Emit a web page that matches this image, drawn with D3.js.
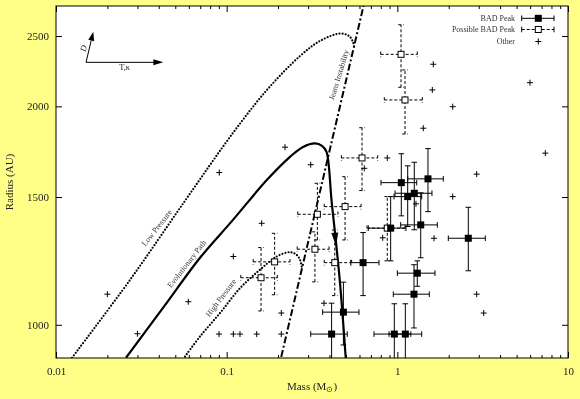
<!DOCTYPE html>
<html><head><meta charset="utf-8">
<script src="https://cdn.jsdelivr.net/npm/d3@7"></script>
<style>
html,body{margin:0;padding:0;background:#ffff88;}
svg{display:block;will-change:transform;}
text{font-family:"Liberation Serif","Times New Roman",serif;}
</style></head><body>
<svg id="chart" width="580" height="399"></svg>
<script>
// ---------- data ----------
const xTickLabels = [0.01, 0.1, 1, 10];
const xMinorTicks = [0.02,0.03,0.04,0.05,0.06,0.07,0.08,0.09,0.2,0.3,0.4,0.5,0.6,0.7,0.8,0.9,2,3,4,5,6,7,8,9];
const yTickLabels = [1000, 1500, 2000, 2500];
const massDomain = [0.01, 10];
const radiusDomain = [900, 2750];

// mass, radius, massLo, massHi, radiusLo, radiusHi
const badPeak = [
  [0.412, 971, 0.311, 0.509, 850, 1071],
  [0.483, 1041, 0.365, 0.596, 938, 1145],
  [0.630, 1218, 0.533, 0.781, 1097, 1340],
  [0.914, 1359, 0.676, 1.124, 1225, 1502],
  [0.960, 971, 0.730, 1.200, 850, 1069],
  [1.114, 971, 0.894, 1.389, 850, 1069],
  [1.055, 1570, 0.802, 1.299, 1413, 1721],
  [1.150, 1502, 0.956, 1.389, 1366, 1656],
  [1.257, 1518, 0.969, 1.596, 1352, 1675],
  [1.371, 1373, 1.046, 1.715, 1237, 1520],
  [1.512, 1589, 1.150, 1.859, 1432, 1749],
  [1.309, 1178, 1.000, 1.662, 1130, 1225],
  [1.252, 1102, 0.947, 1.539, 990, 1210],
  [2.605, 1316, 1.989, 3.277, 1187, 1452]
];
const possibleBadPeak = [
  [1.051, 2359, 0.799, 1.309, 2125, 2591],
  [1.109, 2041, 0.839, 1.401, 1832, 2245],
  [0.621, 1698, 0.470, 0.767, 1531, 1869],
  [0.494, 1455, 0.373, 0.613, 1309, 1600],
  [0.340, 1420, 0.261, 0.449, 1309, 1567],
  [0.329, 1271, 0.259, 0.398, 1146, 1343],
  [0.430, 1218, 0.373, 0.540, 1097, 1351],
  [0.191, 1221, 0.143, 0.235, 1100, 1337],
  [0.159, 1161, 0.121, 0.198, 1045, 1278],
  [0.873, 1359, 0.664, 1.109, 1225, 1502]
];
const otherMass   = [0.0200,0.0300,0.0596,0.0905,0.2197,0.3108,0.8733,0.6404,0.8208,2.917,2.111,1.286,1.640,0.1604,0.1094,0.2090,0.0902,0.1094,0.1197,0.1500,0.2090,0.3718,2.917,3.207,1.624,1.603,2.111,1.419,5.988,7.362];
const otherRadius = [1102,972,1076,1621,1757,1662,1698,1643,1318,1613,1502,1468,1316,1380,1242,1038,971,971,971,971,971,1071,1102,1038,2286,2107,1998,1866,2156,1724];

const lowPressure = [[0.01241,900.7],[0.02715,1153],[0.0570,1482],[0.1089,1838],[0.1723,2107],[0.2690,2346],[0.3522,2461],[0.4614,2520],[0.5208,2500],[0.5498,2453],[0.5610,2399]];
const evolutionaryPath = [[0.02572,900.7],[0.04236,1055],[0.06981,1237],[0.1089,1395],[0.1723,1584],[0.2350,1704],[0.2802,1758],[0.3293,1778],[0.3619,1764],[0.3846,1731],[0.3951,1671],[0.4114,1486],[0.4313,1339],[0.4614,1142],[0.4984,900.7]];
const highPressure = [[0.0570,904],[0.06981,963.6],[0.09139,1037.8],[0.1197,1123],[0.1568,1191],[0.1965,1242],[0.2350,1259],[0.2573,1248],[0.2690,1229],[0.2752,1203]];
const jeansLine = [[0.20,865],[0.66,2865]];
const arrowPoint = [0.434, 1310];
// label anchors [mass, radius, angle]
const curveLabels = [
  ["Low Pressure", 0.03906, 1360, -52],
  ["Evolutionary Path", 0.05856, 1213, -52],
  ["High Pressure", 0.0926, 1089, -53],
  ["Jeans Instability", 0.4551, 2209, -73]
];

// ---------- chart ----------
const svg = d3.select("#chart");
const L = 56, R = 568, T = 6, B = 358;
const x = d3.scaleLog().domain(massDomain).range([L, R]);
const y = d3.scaleLog().domain(radiusDomain).range([B, T]);

svg.append("rect").attr("x",0).attr("y",0).attr("width",580).attr("height",399).attr("fill","#ffff88");
svg.append("rect").attr("x",L).attr("y",T).attr("width",R-L).attr("height",B-T).attr("fill","#ffffff");

svg.append("defs").append("clipPath").attr("id","clip")
  .append("rect").attr("x",L).attr("y",T).attr("width",R-L).attr("height",B-T);

const fmtX = d => (d >= 1 ? d3.format("d")(d) : String(d));
function styleAxis(g){
  g.select(".domain").remove();
  g.selectAll(".tick line").attr("stroke","#000");
  g.selectAll(".tick text").attr("fill","#222").attr("font-size","11px")
    .attr("font-family",'"Liberation Serif","Times New Roman",serif');
}
// bottom
svg.append("g").attr("transform",`translate(0,${B})`)
  .call(d3.axisBottom(x).tickValues(xTickLabels).tickFormat(fmtX).tickSizeInner(-6).tickSizeOuter(0).tickPadding(9)).call(styleAxis);
svg.append("g").attr("transform",`translate(0,${B})`)
  .call(d3.axisBottom(x).tickValues(xMinorTicks).tickFormat("").tickSizeInner(-3).tickSizeOuter(0)).call(styleAxis);
// top
svg.append("g").attr("transform",`translate(0,${T})`)
  .call(d3.axisTop(x).tickValues(xTickLabels).tickFormat("").tickSizeInner(-6).tickSizeOuter(0)).call(styleAxis);
svg.append("g").attr("transform",`translate(0,${T})`)
  .call(d3.axisTop(x).tickValues(xMinorTicks).tickFormat("").tickSizeInner(-3).tickSizeOuter(0)).call(styleAxis);
// left
svg.append("g").attr("transform",`translate(${L},0)`)
  .call(d3.axisLeft(y).tickValues(yTickLabels).tickFormat(d3.format("d")).tickSizeInner(-6).tickSizeOuter(0).tickPadding(7)).call(styleAxis);
// right
svg.append("g").attr("transform",`translate(${R},0)`)
  .call(d3.axisRight(y).tickValues(yTickLabels).tickFormat("").tickSizeInner(-6).tickSizeOuter(0)).call(styleAxis);

// axis titles
svg.append("text").attr("transform",`translate(12.5,${(T+B)/2}) rotate(-90)`)
  .attr("text-anchor","middle").attr("font-size","11px").attr("fill","#222").text("Radius (AU)");
const xt = svg.append("text").attr("x",(L+R)/2).attr("y",389.5).attr("text-anchor","middle")
  .attr("font-size","11px").attr("fill","#222");
xt.append("tspan").text("Mass (M");
xt.append("tspan").attr("font-size","8px").attr("dy","2.5").text("\u2299");
xt.append("tspan").attr("dy","-2.5").text(")");

// ---------- plot content ----------
const plot = svg.append("g").attr("clip-path","url(#clip)");
const line = d3.line().x(d => x(d[0])).y(d => y(d[1])).curve(d3.curveCatmullRom.alpha(0.5));

plot.append("path").datum(lowPressure).attr("d",line).attr("fill","none").attr("stroke","#000")
  .attr("stroke-width",2.2).attr("stroke-linecap","round").attr("stroke-dasharray","0,3.1");
plot.append("path").datum(highPressure).attr("d",line).attr("fill","none").attr("stroke","#000")
  .attr("stroke-width",2.2).attr("stroke-linecap","round").attr("stroke-dasharray","0,3.1");
plot.append("path").datum(evolutionaryPath).attr("d",line).attr("fill","none").attr("stroke","#000")
  .attr("stroke-width",2.2);
plot.append("path").datum(jeansLine).attr("d",d3.line().x(d=>x(d[0])).y(d=>y(d[1])))
  .attr("fill","none").attr("stroke","#000").attr("stroke-width",2).attr("stroke-dasharray","7,2.5,2,2.5");

// arrow on the evolutionary path
{
  const ax = x(arrowPoint[0]), ay = y(arrowPoint[1]);
  const ang = Math.atan2(y(1142)-y(1339), x(0.4614)-x(0.4313)) * 180/Math.PI - 90;
  plot.append("path").attr("d","M-3.5,-7 L3.5,-7 L0,6 Z").attr("fill","#000")
    .attr("transform",`translate(${ax},${ay}) rotate(${ang})`);
}

// curve labels
curveLabels.forEach(([txt, mx, ry, ang]) => {
  plot.append("text").attr("transform",`translate(${x(mx)},${y(ry)}) rotate(${ang})`)
    .attr("text-anchor","middle").attr("dominant-baseline","central")
    .attr("font-size","8px").attr("fill","#333").text(txt);
});

// error bars
function errorBars(rows, dashed){
  const g = plot.append("g").attr("stroke","#000").attr("stroke-width",1).attr("fill","none");
  if (dashed) g.attr("stroke-dasharray","3,2");
  const c = 2.8;
  rows.forEach(r => {
    const cx = x(r[0]), cy = y(r[1]);
    const x0 = x(r[2]), x1 = x(r[3]), y0 = y(r[4]), y1 = y(r[5]);
    g.append("line").attr("x1",x0).attr("x2",x1).attr("y1",cy).attr("y2",cy);
    g.append("line").attr("x1",x0).attr("x2",x0).attr("y1",cy-c).attr("y2",cy+c).attr("stroke-dasharray",null);
    g.append("line").attr("x1",x1).attr("x2",x1).attr("y1",cy-c).attr("y2",cy+c).attr("stroke-dasharray",null);
    g.append("line").attr("x1",cx).attr("x2",cx).attr("y1",y0).attr("y2",y1);
    g.append("line").attr("x1",cx-c).attr("x2",cx+c).attr("y1",y0).attr("y2",y0).attr("stroke-dasharray",null);
    g.append("line").attr("x1",cx-c).attr("x2",cx+c).attr("y1",y1).attr("y2",y1).attr("stroke-dasharray",null);
  });
}
errorBars(possibleBadPeak, true);
errorBars(badPeak, false);

// markers
plot.selectAll("rect.open").data(possibleBadPeak).enter().append("rect").attr("class","open")
  .attr("x",d=>x(d[0])-3).attr("y",d=>y(d[1])-3).attr("width",6).attr("height",6)
  .attr("fill","#fff").attr("stroke","#000").attr("stroke-width",1);
plot.selectAll("rect.filled").data(badPeak).enter().append("rect").attr("class","filled")
  .attr("x",d=>x(d[0])-3.5).attr("y",d=>y(d[1])-3.5).attr("width",7).attr("height",7)
  .attr("fill","#000");
const plusPath = "M-3,0H3M0,-3V3";
plot.selectAll("path.plus").data(otherMass.map((m,i)=>[m, otherRadius[i]])).enter().append("path")
  .attr("class","plus").attr("d",plusPath).attr("stroke","#000").attr("stroke-width",1)
  .attr("transform",d=>`translate(${x(d[0])},${y(d[1])})`);

// direction indicator (top-left)
{
  const ox = x(0.01499), oy = y(2300);
  const hx = x(0.04253), vx = x(0.01654), vy = y(2534);
  const g = svg.append("g");
  g.append("line").attr("x1",ox).attr("y1",oy).attr("x2",hx-8).attr("y2",oy).attr("stroke","#000").attr("stroke-width",1);
  g.append("path").attr("d",`M${hx},${oy} L${hx-10},${oy-3} L${hx-10},${oy+3} Z`).attr("fill","#000");
  const ang = Math.atan2(vy-oy, vx-ox);
  const bx = vx - 9*Math.cos(ang), by = vy - 9*Math.sin(ang);
  g.append("line").attr("x1",ox).attr("y1",oy).attr("x2",bx).attr("y2",by).attr("stroke","#000").attr("stroke-width",1);
  const px = -Math.sin(ang)*3, py = Math.cos(ang)*3;
  g.append("path").attr("d",`M${vx},${vy} L${bx+px},${by+py} L${bx-px},${by-py} Z`).attr("fill","#000");
  g.append("text").attr("x",(ox+hx)/2).attr("y",oy+7.5).attr("text-anchor","middle").attr("font-size","8.5px").attr("fill","#222").text("T,\u03BA");
  g.append("text").attr("transform",`translate(${ox-2.5},${oy-14}) rotate(-75)`).attr("text-anchor","middle")
    .attr("dominant-baseline","central").attr("font-size","8.5px").attr("font-style","italic").attr("fill","#222").text("D");
}

// border
svg.append("rect").attr("x",L).attr("y",T).attr("width",R-L).attr("height",B-T)
  .attr("fill","none").attr("stroke","#000").attr("stroke-width",1);

// legend
{
  const lg = svg.append("g");
  const items = [
    {label:"BAD Peak", type:"filled", y:18.3},
    {label:"Possible BAD Peak", type:"open", y:29.5},
    {label:"Other", type:"plus", y:41.5}
  ];
  const tx = 515, x0 = 521.7, x1 = 554, mx = 538.3;
  items.forEach(it => {
    lg.append("text").attr("x",tx).attr("y",it.y).attr("text-anchor","end").attr("dominant-baseline","central")
      .attr("font-size","8px").attr("fill","#333").text(it.label);
    if (it.type !== "plus") {
      const bar = lg.append("line").attr("x1",x0).attr("x2",x1).attr("y1",it.y).attr("y2",it.y).attr("stroke","#000");
      if (it.type === "open") bar.attr("stroke-dasharray","3,2");
      [x0,x1].forEach(cx => lg.append("line").attr("x1",cx).attr("x2",cx).attr("y1",it.y-2.8).attr("y2",it.y+2.8).attr("stroke","#000"));
    }
    if (it.type === "filled") lg.append("rect").attr("x",mx-3.5).attr("y",it.y-3.5).attr("width",7).attr("height",7).attr("fill","#000");
    if (it.type === "open") lg.append("rect").attr("x",mx-3).attr("y",it.y-3).attr("width",6).attr("height",6).attr("fill","#fff").attr("stroke","#000");
    if (it.type === "plus") lg.append("path").attr("d",plusPath).attr("stroke","#000").attr("transform",`translate(${mx},${it.y})`);
  });
}
</script>
</body></html>
